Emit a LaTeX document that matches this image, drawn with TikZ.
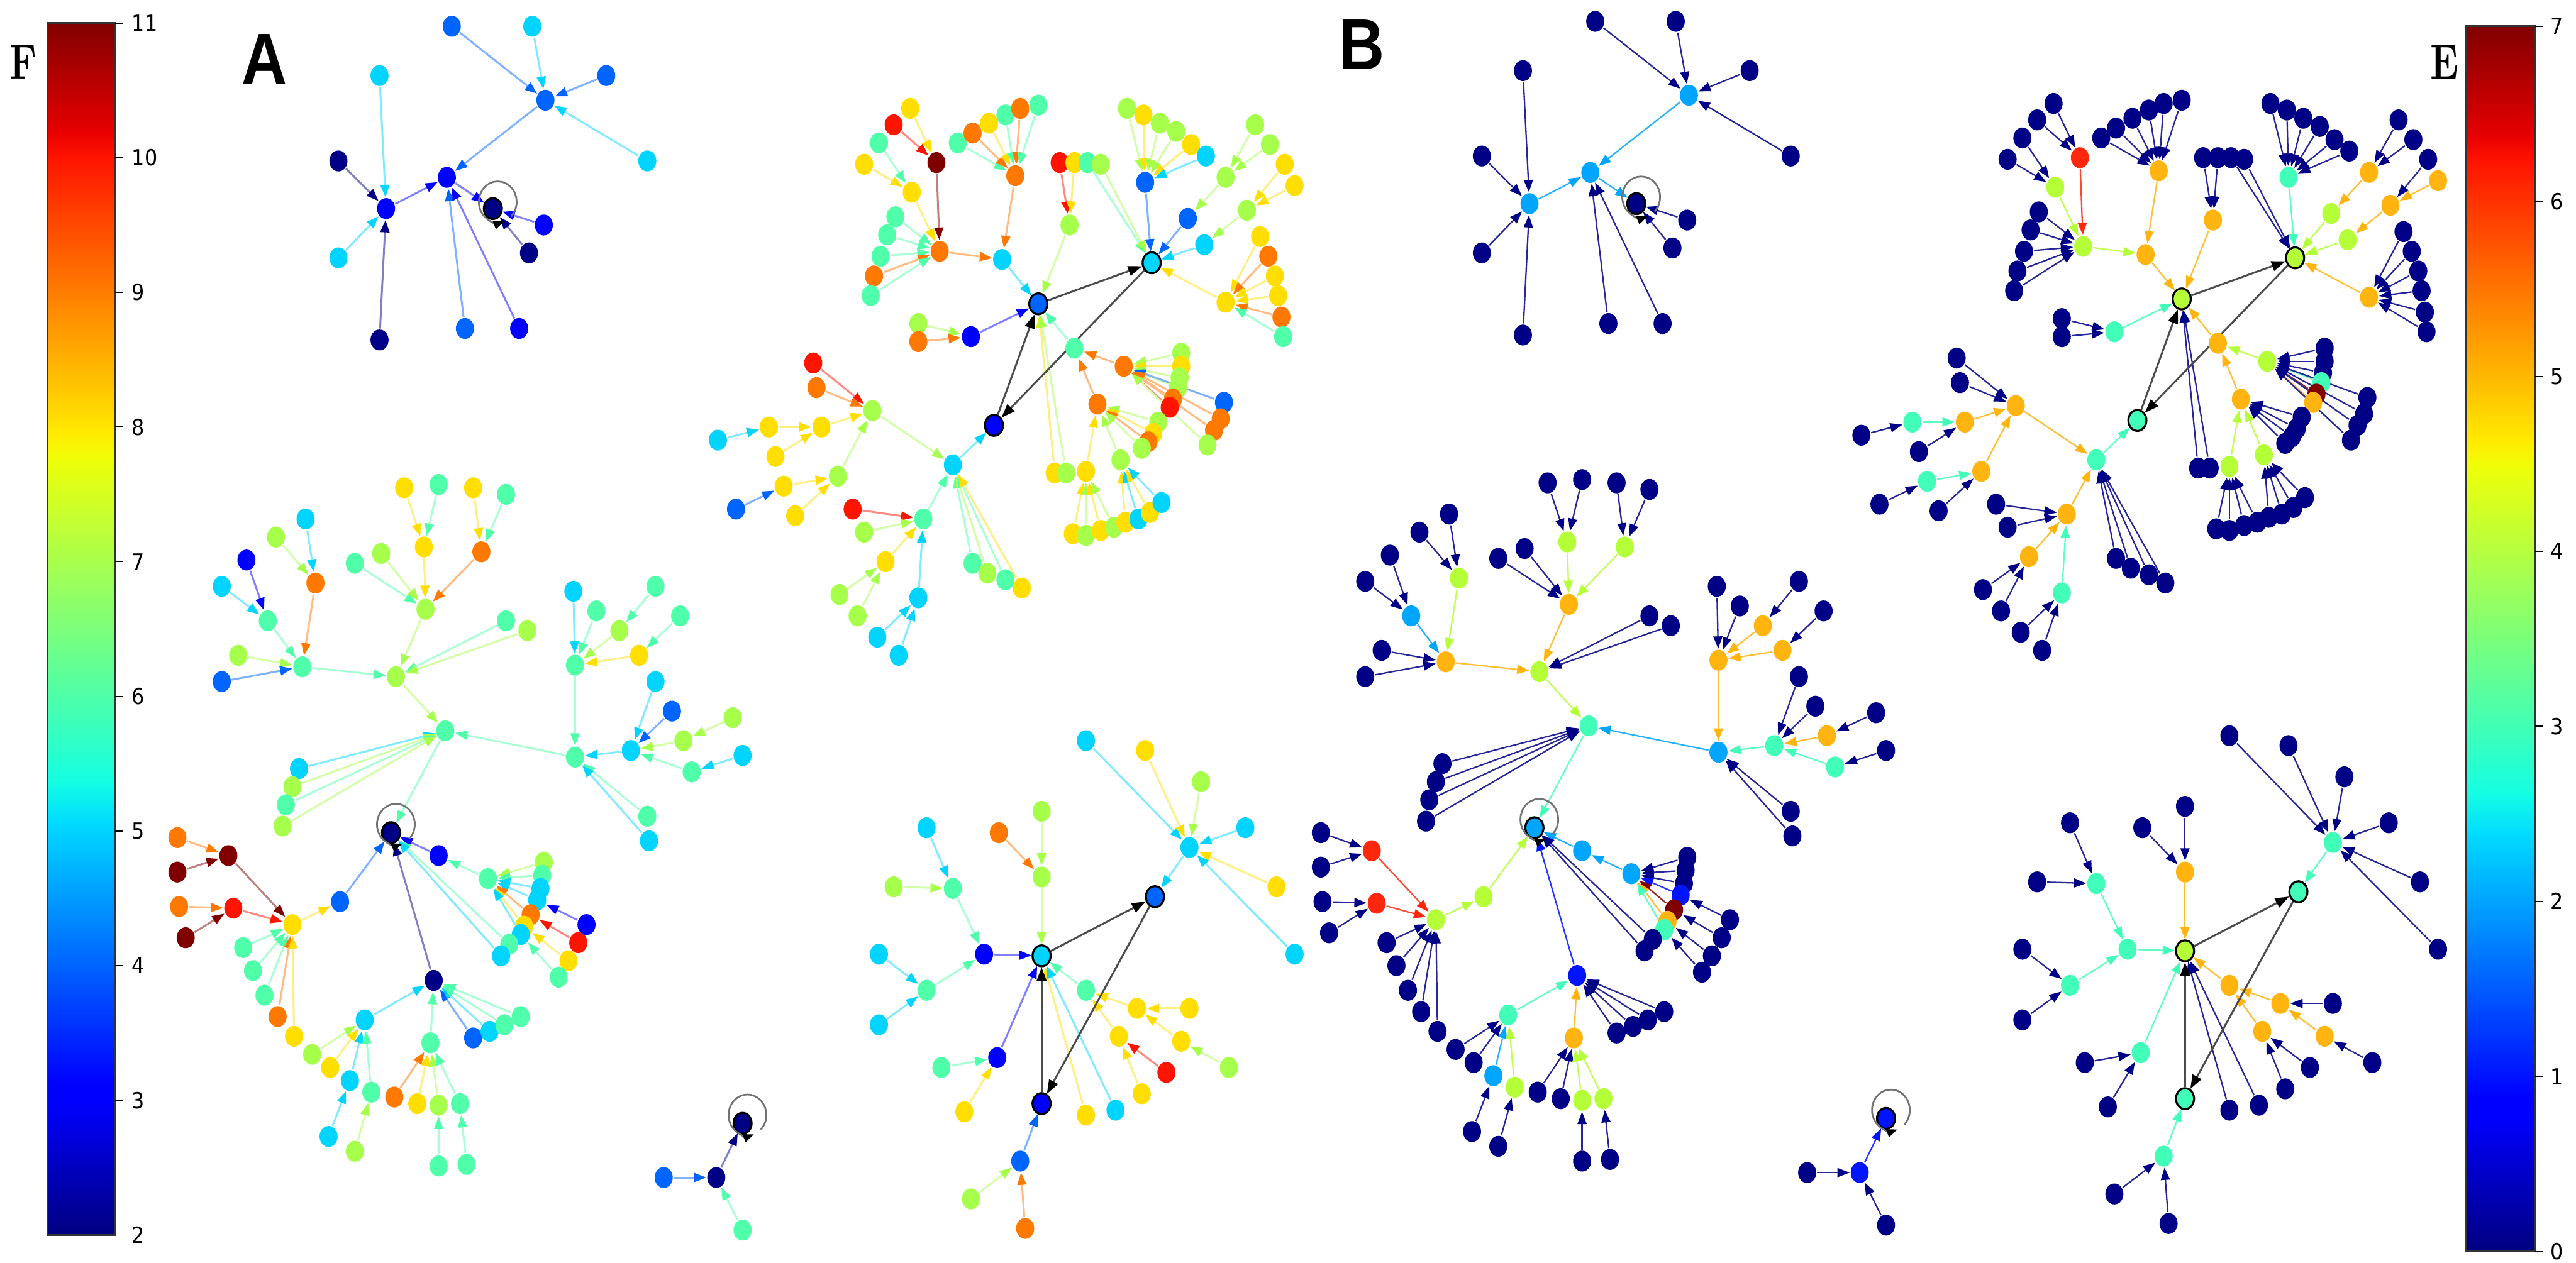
\documentclass[tikz,border=0pt]{standalone}
\usepackage{fontspec}
\usepackage{tikz}
\usetikzlibrary{arrows.meta,shapes.geometric,backgrounds}
\newfontfamily\tickfont[FakeStretch=0.9]{DejaVu Sans}
\newfontfamily\panelfont[FakeStretch=0.87]{Liberation Sans}
% node colours, panel A (jet, 2..11)
\definecolor{nv}{RGB}{0,0,135}
\definecolor{bl}{RGB}{0,0,255}
\definecolor{az}{RGB}{0,100,255}
\definecolor{cy}{RGB}{0,212,255}
\definecolor{tl}{RGB}{80,255,170}
\definecolor{lm}{RGB}{165,255,75}
\definecolor{yl}{RGB}{255,222,0}
\definecolor{or}{RGB}{255,120,0}
\definecolor{rd}{RGB}{255,20,0}
\definecolor{mr}{RGB}{128,0,0}
% node colours, panel B (jet, 0..7)
\definecolor{vb}{RGB}{0,20,255}
\definecolor{va}{RGB}{0,165,255}
\definecolor{vt}{RGB}{65,255,185}
\definecolor{vl}{RGB}{180,255,55}
\definecolor{vo}{RGB}{255,180,15}
\definecolor{vr}{RGB}{255,40,15}
% colour bar stops
\definecolor{jet0}{RGB}{0,0,128}
\definecolor{jet1}{RGB}{0,0,255}
\definecolor{jet2}{RGB}{0,0,255}
\definecolor{jet3}{RGB}{0,219,255}
\definecolor{jet4}{RGB}{21,255,226}
\definecolor{jet5}{RGB}{238,255,8}
\definecolor{jet6}{RGB}{255,236,0}
\definecolor{jet7}{RGB}{255,19,0}
\definecolor{jet8}{RGB}{232,0,0}
\definecolor{jet9}{RGB}{128,0,0}

\tikzset{
  nd/.style={ellipse, minimum width=0.22cm, minimum height=0.255cm, inner sep=0pt, line width=0.7pt},
  aedge/.style={line width=0.65pt, draw=#1!50!white, -{Triangle[length=0.15cm,width=0.11cm,color=#1]}},
  bedge/.style={line width=0.5pt, draw=#1!85!white, -{Triangle[length=0.15cm,width=0.11cm,color=#1]}},
  hubedge/.style={line width=0.65pt, draw=black!70, -{Triangle[length=0.17cm,width=0.12cm,color=black]}},
  loopline/.style={line width=0.6pt, draw=black!55, -{Triangle[length=0.13cm,width=0.1cm,color=black]}},
  ticklabel/.style={anchor=west, inner sep=0pt, font=\tickfont\fontsize{7.7}{8}\selectfont},
  panel/.style={inner sep=0pt, font=\panelfont\bfseries\fontsize{25}{25}\selectfont},
  barletter/.style={inner sep=0pt, xscale=0.78, font=\bfseries\fontsize{17}{17}\selectfont}
}

% name/x/y/colour A/colour B/outline
\def\graphnodes{%
p1/275/16/az/nv/none, p2/324/16/cy/nv/none, p3/369/46/az/nv/none, p4/394/98/cy/nv/none,
p5/332/61/az/va/none, p6/231/46/cy/nv/none, p7/272/108/bl/va/none, p8/235/127/bl/va/none,
p9/300/127/nv/nv/black, p10/206/98/nv/nv/none, p11/206/157/cy/nv/none, p12/231/207/nv/nv/none,
p13/283/200/az/nv/none, p14/316/200/bl/nv/none, p15/331/137/bl/nv/none, p16/322/154/nv/nv/none,
h1/632/185/az/vl/black, h2/701/160/cy/vl/black, h3/605/259/bl/vt/black,
r1/570/99/mr/vr/none, r2/544/76/rd/nv/none, r3/554/66/yl/nv/none, r4/555/117/yl/vl/none,
r5/535/87/tl/nv/none, r6/572/153/or/vl/none, r7/610/158/cy/vo/none, r8/526/100/yl/nv/none,
r9/545/132/tl/nv/none, r10/540/143/tl/nv/none, r11/536/156/tl/nv/none, r12/532/168/or/nv/none,
r13/530/180/tl/nv/none, r14/618/107/or/vo/none, r15/583/87/tl/nv/none, r16/592/81/or/nv/none,
r17/602/75/yl/nv/none, r18/612/70/tl/nv/none, r19/621/66/or/nv/none, r20/632/64/tl/nv/none,
r21/651/137/lm/vo/none, r22/645/99/rd/nv/none, r23/654/99/yl/nv/none, r24/662/99/tl/nv/none,
r25/670/100/lm/nv/none, r26/697/111/az/vt/none, r27/686/66/lm/nv/none, r28/696/70/yl/nv/none,
r29/706/75/lm/nv/none, r30/716/80/lm/nv/none, r31/725/88/yl/nv/none, r32/734/95/cy/nv/none,
r33/723/133/az/vl/none, r34/733/149/cy/vl/none, r35/746/108/lm/vo/none, r36/764/76/lm/nv/none,
r37/773/88/lm/nv/none, r38/759/128/lm/vo/none, r39/782/100/yl/nv/none, r40/788/113/yl/vo/none,
r41/746/184/yl/vo/none, r42/767/144/yl/nv/none, r43/772/156/or/nv/none, r44/776/168/yl/nv/none,
r45/778/180/yl/nv/none, r46/780/193/or/nv/none, r47/781/205/tl/nv/none,
r48/654/212/tl/vo/none, r49/684/223/or/vl/none, r50/719/215/lm/nv/none, r51/719/223/yl/nv/none,
r52/718/230/lm/nv/none, r53/717/236/lm/vt/none, r54/714/243/or/mr/none, r55/712/248/rd/vo/none,
r56/745/245/az/nv/none, r57/743/255/or/nv/none, r58/739/262/or/nv/none, r59/735/271/lm/nv/none,
r60/668/246/or/vo/none, r61/705/257/lm/nv/none, r62/702/264/yl/nv/none, r63/699/269/or/nv/none,
r64/695/273/lm/nv/none, r65/661/287/yl/vl/none, r66/653/325/yl/nv/none, r67/661/326/lm/nv/none,
r68/670/323/yl/nv/none, r69/678/321/lm/nv/none, r70/682/280/lm/vl/none, r71/685/318/yl/nv/none,
r72/693/316/cy/nv/none, r73/700/312/yl/nv/none, r74/707/306/cy/nv/none,
r75/642/288/yl/nv/none, r76/649/288/lm/nv/none, r77/591/205/bl/vt/none, r78/559/197/lm/nv/none,
r79/559/208/or/nv/none, r80/580/283/cy/vt/none, r81/531/250/lm/vo/none, r82/495/221/rd/nv/none,
r83/497/236/or/nv/none, r84/500/260/yl/vo/none, r85/468/260/yl/vt/none, r86/472/278/yl/nv/none,
r87/437/268/cy/nv/none, r88/510/290/lm/vo/none, r89/477/296/yl/vt/none, r90/484/314/yl/nv/none,
r91/448/310/az/nv/none, r92/562/316/tl/vo/none, r93/519/310/rd/nv/none, r94/526/324/lm/nv/none,
r95/539/342/yl/vo/none, r96/559/364/cy/vt/none, r97/511/362/lm/nv/none, r98/522/375/lm/nv/none,
r99/534/388/cy/nv/none, r100/547/399/cy/nv/none, r101/592/343/tl/nv/none, r102/601/349/lm/nv/none,
r103/612/353/tl/nv/none, r104/622/358/yl/nv/none,
s1/271/445/tl/vt/none, s2/238/507/nv/va/black, s3/241/412/lm/vl/none, s4/184/406/tl/vo/none,
s5/163/378/tl/va/none, s6/135/357/cy/nv/none, s7/150/341/bl/nv/none, s8/192/355/or/vl/none,
s9/168/327/lm/nv/none, s10/186/316/cy/nv/none, s11/145/399/lm/nv/none, s12/135/415/az/nv/none,
s13/259/371/lm/vo/none, s14/216/343/tl/nv/none, s15/232/337/lm/nv/none, s16/258/333/yl/vl/none,
s17/246/297/yl/nv/none, s18/267/295/tl/nv/none, s19/293/336/or/vl/none, s20/288/297/yl/nv/none,
s21/308/301/tl/nv/none, s22/308/378/tl/nv/none, s23/321/384/lm/nv/none,
s24/182/468/cy/nv/none, s25/178/479/lm/nv/none, s26/174/490/tl/nv/none, s27/172/503/lm/nv/none,
s28/350/461/tl/va/none, s29/350/405/tl/vo/none, s30/349/360/cy/nv/none, s31/363/372/tl/nv/none,
s32/377/384/lm/vo/none, s33/399/357/tl/nv/none, s34/389/399/yl/vo/none, s35/414/375/tl/nv/none,
s36/384/457/cy/vt/none, s37/399/415/cy/nv/none, s38/409/433/az/nv/none, s39/416/451/lm/vo/none,
s40/446/437/lm/nv/none, s41/421/470/tl/vt/none, s42/452/460/cy/nv/none, s43/394/497/tl/nv/none,
s44/395/512/cy/nv/none, s45/207/549/az/vl/none, s46/178/563/yl/vl/none, s47/139/521/mr/vr/none,
s48/108/510/or/nv/none, s49/108/531/mr/nv/none, s50/142/553/rd/vr/none, s51/109/552/or/nv/none,
s52/113/571/mr/nv/none, s53/148/577/tl/nv/none, s54/154/591/tl/nv/none, s55/161/606/tl/nv/none,
s56/169/619/or/nv/none, s57/179/631/yl/nv/none,
s58/267/521/bl/va/none, s59/297/535/tl/va/none, s60/331/525/lm/nv/none, s61/330/533/tl/nv/none,
s62/329/541/cy/nv/none, s63/327/548/cy/vb/none, s64/323/557/or/mr/none, s65/319/564/yl/vo/none,
s66/317/569/cy/vt/none, s67/310/575/tl/nv/none, s68/305/582/cy/nv/none,
s69/357/563/bl/nv/none, s70/352/574/rd/nv/none, s71/346/585/yl/nv/none, s72/340/595/tl/nv/none,
s73/264/597/nv/vb/none, s74/222/621/cy/vt/none, s75/190/642/lm/nv/none, s76/201/650/yl/nv/none,
s77/213/658/cy/va/none, s78/200/692/cy/nv/none, s79/226/665/tl/vl/none, s80/216/701/lm/nv/none,
s81/262/635/tl/vo/none, s82/240/668/or/nv/none, s83/254/672/yl/nv/none, s84/267/673/lm/vl/none,
s85/267/710/tl/nv/none, s86/280/672/tl/vl/none, s87/284/709/tl/nv/none,
s88/288/632/az/nv/none, s89/298/628/cy/nv/none, s90/307/624/tl/nv/none, s91/317/619/tl/nv/none,
q1/452/684/nv/vb/black, q2/436/717/nv/vb/none, q3/404/717/az/nv/none, q4/452/749/tl/nv/none,
u1/634/582/cy/vl/black, u2/703/546/az/vt/black, u3/634/672/bl/vt/black,
u4/724/516/cy/vt/none, u5/661/451/cy/nv/none, u6/697/457/yl/nv/none, u7/731/476/lm/nv/none,
u8/758/504/cy/nv/none, u9/777/540/yl/nv/none, u10/788/581/cy/nv/none,
u11/634/534/lm/vo/none, u12/608/507/or/nv/none, u13/634/494/lm/nv/none,
u14/599/581/bl/vt/none, u15/580/541/tl/vt/none, u16/564/504/cy/nv/none, u17/544/540/lm/nv/none,
u18/564/603/tl/vt/none, u19/535/581/cy/nv/none, u20/535/624/cy/nv/none,
u21/607/644/bl/vt/none, u22/573/650/tl/nv/none, u23/587/677/yl/nv/none,
u24/661/603/tl/vo/none, u25/692/614/yl/vo/none, u26/681/631/yl/vo/none, u27/724/614/yl/nv/none,
u28/719/634/yl/vo/none, u29/748/650/lm/nv/none, u30/710/653/rd/nv/none, u31/695/666/yl/nv/none,
u32/661/679/yl/nv/none, u33/679/676/cy/nv/none, u34/621/707/az/vt/none, u35/591/730/lm/nv/none,
u36/624/748/or/nv/none}

% target/{sources}
\def\graphedges{%
p5/{p1,p2,p3,p4}, p7/{p5,p8,p13,p14}, p8/{p6,p10,p11,p12}, p9/{p7,p15,p16},
r1/{r2,r3}, r4/{r5,r8}, r6/{r1,r4,r9,r10,r11,r12,r13}, r7/{r6,r14},
r14/{r15,r16,r17,r18,r19,r20}, h1/{r7,r21,r48,r75,r76,r77}, r21/{r22,r23},
h2/{r24,r25,r26,r33,r34,r41}, r26/{r27,r28,r29,r30,r31,r32}, r33/{r35}, r35/{r36,r37},
r34/{r38}, r38/{r39,r40}, r41/{r42,r43,r44,r45,r46,r47}, r48/{r49,r60},
r49/{r50,r51,r52,r53,r54,r55,r56,r57,r58,r59}, r60/{r61,r62,r63,r64,r65,r70},
r65/{r66,r67,r68,r69}, r70/{r71,r72,r73,r74}, r77/{r78,r79}, h3/{r80},
r80/{r81,r92,r101,r102,r103,r104}, r81/{r82,r83,r84,r88}, r84/{r85,r86}, r85/{r87},
r88/{r89,r90}, r89/{r91}, r92/{r93,r94,r95,r96}, r95/{r97,r98}, r96/{r99,r100},
s2/{s1,s45,s58,s67,s68,s73}, s1/{s3,s24,s25,s26,s27,s28}, s3/{s4,s13,s22,s23},
s4/{s5,s8,s11,s12}, s5/{s6,s7}, s8/{s9,s10}, s13/{s14,s15,s16,s19}, s16/{s17,s18},
s19/{s20,s21}, s28/{s29,s36,s43,s44}, s29/{s30,s31,s32,s34}, s32/{s33}, s34/{s35},
s36/{s37,s38,s39,s41}, s39/{s40}, s41/{s42}, s45/{s46}, s46/{s47,s50,s53,s54,s55,s56,s57},
s47/{s48,s49}, s50/{s51,s52}, s58/{s59}, s59/{s60,s61,s62,s63,s64,s65,s66},
s63/{s69}, s64/{s70}, s65/{s71}, s66/{s72}, s73/{s74,s81,s88,s89,s90,s91},
s74/{s75,s76,s77,s79}, s77/{s78}, s79/{s80}, s81/{s82,s83,s84,s86}, s84/{s85}, s86/{s87},
q1/{q2}, q2/{q3,q4},
u2/{u4}, u4/{u5,u6,u7,u8,u9,u10}, u1/{u11,u14,u21,u24,u32,u33}, u11/{u12,u13},
u14/{u15,u18}, u15/{u16,u17}, u18/{u19,u20}, u21/{u22,u23}, u24/{u25,u26},
u25/{u27,u28}, u28/{u29}, u26/{u30,u31}, u3/{u34}, u34/{u35,u36}}

\def\jetsegs{0/0.11/jet0/jet1, 0.11/0.125/jet1/jet2, 0.125/0.34/jet2/jet3,
0.34/0.375/jet3/jet4, 0.375/0.64/jet4/jet5, 0.64/0.66/jet5/jet6,
0.66/0.89/jet6/jet7, 0.89/0.91/jet7/jet8, 0.91/1/jet8/jet9}

\begin{document}
\begin{tikzpicture}[x=0.02cm, y=-0.02cm]
\useasboundingbox (0,0) rectangle (1568,769);

% nodes of both panels (B is the same layout shifted)
\foreach \nn/\xx/\yy/\ka/\kb/\ol in \graphnodes {
  \expandafter\xdef\csname ka@\nn\endcsname{\ka}
  \expandafter\xdef\csname kb@\nn\endcsname{\kb}
  \node[nd, draw=\ol, fill=\ka] (a\nn) at (\xx,\yy) {};
  \node[nd, draw=\ol, fill=\kb] (b\nn) at (\xx+696,\yy-3) {};
}

\begin{scope}[on background layer]
  \foreach \dst/\srcs in \graphedges {
    \foreach \src in \srcs {
      \edef\ec{\csname ka@\src\endcsname}
      \draw[aedge=\ec] (a\src) -- (a\dst);
      \edef\ec{\csname kb@\src\endcsname}
      \draw[bedge=\ec] (b\src) -- (b\dst);
    }
  }
  \foreach \pp in {a,b} {
    \draw[hubedge] (\pp h1) -- (\pp h2);
    \draw[hubedge] (\pp h2) -- (\pp h3);
    \draw[hubedge] (\pp h3) -- (\pp h1);
    \draw[hubedge] (\pp u1) -- (\pp u2);
    \draw[hubedge] (\pp u2) -- (\pp u3);
    \draw[hubedge] (\pp u3) -- (\pp u1);
  }
\end{scope}

% self loops
\foreach \lp/\ox/\oy in {p9/3/-4, s2/3/-5, q1/3/-5} {
  \foreach \pp in {a,b} {
    \draw[loopline] ([shift={(\ox+8.1,\oy+8.8)}]\pp\lp.center)
      arc[start angle=-45, end angle=290, x radius=0.23cm, y radius=0.25cm];
  }
}

% colour bars
\foreach \ga/\gb/\gc/\gd in \jetsegs {
  \shade[bottom color=\gc, top color=\gd] (29,{752-\ga*738+0.4}) rectangle (70,{752-\gb*738-0.4});
  \shade[bottom color=\gc, top color=\gd] (1501,{762-\ga*746+0.4}) rectangle (1543,{762-\gb*746-0.4});
}
\draw[black!80, line width=0.6pt] (29,14) rectangle (70,752);
\draw[black!80, line width=0.6pt] (1501,16) rectangle (1543,762);
\foreach \v in {2,...,11} {
  \draw[line width=0.4pt] (70,{752-(\v-2)*82}) -- (75,{752-(\v-2)*82});
  \node[ticklabel] (fl\v) at (80,{752-(\v-2)*82}) {\v};
}
\foreach \v in {0,...,7} {
  \draw[line width=0.4pt] (1543,{762-\v*106.57}) -- (1548,{762-\v*106.57});
  \node[ticklabel] (el\v) at (1552,{762-\v*106.57}) {\v};
}

\node[panel] (labA) at (161,36) {A};
\node[panel] (labB) at (829,27) {B};
\node[barletter] (labF) at (14,38) {F};
\node[barletter] (labE) at (1488,38) {E};
\end{tikzpicture}
\end{document}
